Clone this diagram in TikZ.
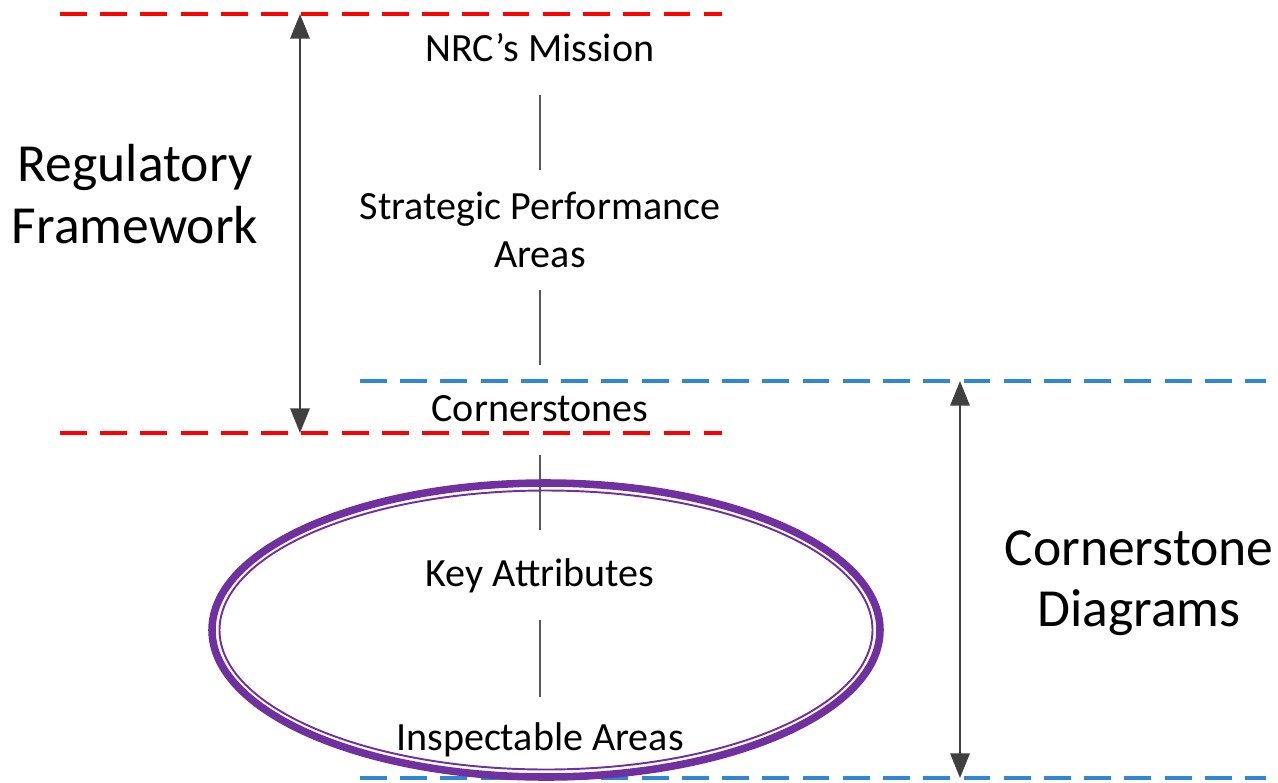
\documentclass[tikz,border=0pt]{standalone}
\usepackage{fontspec}
\setmainfont{Carlito}
\usepackage{xcolor}
\usepackage{tikz}
\usetikzlibrary{arrows.meta}
\usetikzlibrary{positioning}

\definecolor{frameRed}{HTML}{FF0000}
\definecolor{diagBlue}{HTML}{2E86D6}
\definecolor{ovalPurple}{HTML}{7030A0}
\definecolor{arrowGray}{HTML}{404040}
\definecolor{linkGray}{HTML}{595959}

\begin{document}
\begin{tikzpicture}[
    x=0.02cm, y=-0.02cm,
    % styles
    redbound/.style={frameRed, line width=1.8pt, dash pattern=on 15.3pt off 7.6pt},
    bluebound/.style={diagBlue, line width=1.8pt, dash pattern=on 15.3pt off 7.6pt},
    span/.style={arrowGray, line width=1.2pt, {Triangle[length=14pt, width=11pt]}-{Triangle[length=14pt, width=11pt]}},
    link/.style={linkGray, line width=1.1pt},
    level/.style={inner sep=0pt, align=center, font=\fontsize{22.8}{27}\selectfont},
    group/.style={inner sep=0pt, align=center, font=\fontsize{30.5}{35}\selectfont}]

    \useasboundingbox (0,0) rectangle (1278,782);

    % boundaries
    \draw [redbound] (60,14) -- (722,14);
    \draw [redbound] (60,433) -- (722,433);
    \draw [bluebound] (360,381) -- (1266,381);
    \draw [bluebound] (360,778) -- (1266,778);

    \coordinate (regTop) at (300,14);
    \coordinate (regBot) at (300,433);
    \coordinate (cornTop) at (960,381);
    \coordinate (cornBot) at (960,778);

    % levels
    \node [level] (mission) at (540,48) {NRC’s Mission};
    \node [level] (strategic) at (540,230) {Strategic Performance\\Areas};
    \node [level] (corner) at (540,409) {Cornerstones};
    \node [level] (key) at (540,576) {Key Attributes};
    \node [level] (insp) at (540,740) {Inspectable Areas};

    % groups
    \node [group] (regframe) at (135,194) {Regulatory\\Framework};
    \node [group] (corndiag) at (1139,583) {Cornerstone\\Diagrams};

    % links
    \draw [link, shorten <=26.6pt, shorten >=34pt] (mission.center) -- (strategic.center);
    \draw [link, shorten <=34pt, shorten >=25pt] (strategic.center) -- (corner.center);
    \draw [link, shorten <=26pt, shorten >=26pt] (corner.center) -- (key.center);
    \draw [link, shorten <=25pt, shorten >=24.4pt] (key.center) -- (insp.center);

    % spans
    \draw [span] (regTop) -- (regBot);
    \draw [span] (cornTop) -- (cornBot);

    % oval
    \draw [ovalPurple, line width=4.3pt] (546,630) ellipse (334 and 147);
    \draw [ovalPurple, line width=1.1pt] (546,630) ellipse (326.5 and 139.5);

\end{tikzpicture}
\end{document}
